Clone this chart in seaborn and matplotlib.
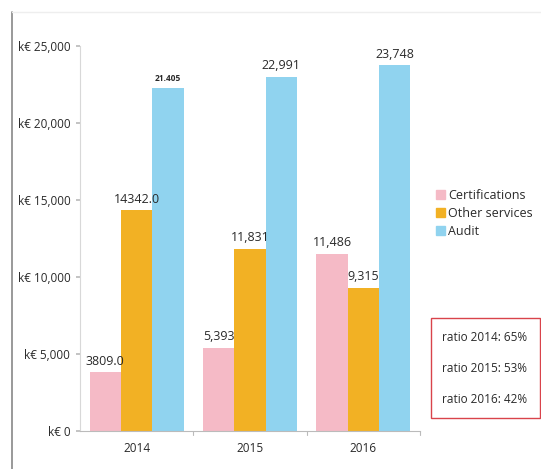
import matplotlib
matplotlib.use("Agg")
import matplotlib.pyplot as plt
import seaborn as sns
import pandas as pd
from matplotlib.patches import Rectangle
from matplotlib.lines import Line2D

years = ["2014", "2015", "2016"]
categories = ["Certifications", "Other services", "Audit"]
certifications = [3809.0, 5393, 11486]
other_services = [14342.0, 11831, 9315]
audit = [22300, 22991, 23748]
cert_labels = ["3809.0", "5,393", "11,486"]
other_labels = ["14342.0", "11,831", "9,315"]
audit_labels = ["21.405", "22,991", "23,748"]
ratio_texts = ["ratio 2014: 65%", "ratio 2015: 53%", "ratio 2016: 42%"]
yticks = [0, 5000, 10000, 15000, 20000, 25000]
ytick_labels = ["k€ 0", "k€ 5,000", "k€ 10,000", "k€ 15,000", "k€ 20,000", "k€ 25,000"]
colors = ["#F5BAC6", "#F2B124", "#90D3EF"]

rows = []
for i, y in enumerate(years):
    rows.append((y, categories[0], certifications[i]))
    rows.append((y, categories[1], other_services[i]))
    rows.append((y, categories[2], audit[i]))
df = pd.DataFrame(rows, columns=["year", "category", "value"])

sns.set_theme(style="white")
plt.rcParams["font.family"] = ["Open Sans", "DejaVu Sans"]

fig = plt.figure(figsize=(5.41, 4.69), dpi=100)
ax = fig.add_axes([80 / 541, 1 - 431 / 469, 340 / 541, 385 / 469])
sns.barplot(data=df, x="year", y="value", hue="category", hue_order=categories,
            palette=colors, width=0.83, gap=0, saturation=1, ax=ax, legend=False,
            linewidth=0, edgecolor="none")

ax.set_ylim(0, 25000)
ax.set_xlim(-0.5, 2.5)
ax.set_yticks(yticks)
ax.set_yticklabels(ytick_labels, fontsize=8.5, color="#2a2a2a")
ax.set_xlabel("")
ax.set_ylabel("")
ax.tick_params(axis="x", labelsize=8.5, colors="#2a2a2a", length=0, pad=8)
ax.tick_params(axis="y", left=True, length=3, color="#bbbbbb", pad=4)
for s in ["top", "right"]:
    ax.spines[s].set_visible(False)
ax.spines["left"].set_color("#d8d8d8")
ax.spines["bottom"].set_color("#bbbbbb")
ax.spines["left"].set_linewidth(0.8)
ax.spines["bottom"].set_linewidth(0.8)
for xb in [0.5, 1.5, 2.5]:
    ax.plot([xb, xb], [0, -250], color="#bbbbbb", lw=0.8, clip_on=False)

label_sets = [cert_labels, other_labels, audit_labels]
for ci, container in enumerate(ax.containers):
    for bi, bar in enumerate(container):
        txt = label_sets[ci][bi]
        is_small = (ci == 2 and bi == 0)
        ax.text(bar.get_x() + bar.get_width() / 2, bar.get_height() + 300, txt,
                ha="center", va="bottom",
                fontsize=6 if is_small else 9,
                fontweight="bold" if is_small else "normal",
                color="#2a2a2a", clip_on=False)

# legend
handles = [Rectangle((0, 0), 1, 1, color=c) for c in colors]
fig.legend(handles, categories, loc="upper left", bbox_to_anchor=(436 / 541, 1 - 189 / 469),
           frameon=False, fontsize=9, handlelength=0.7, handleheight=0.7,
           handletextpad=0.25, labelspacing=0.4, borderaxespad=0, borderpad=0,
           labelcolor="#2a2a2a")

# ratio box
fig.patches.append(Rectangle((431 / 541, 1 - 418 / 469), 109 / 541, 100 / 469,
                             transform=fig.transFigure, fill=False,
                             edgecolor="#d9434b", lw=1.0))
for k, t in enumerate(ratio_texts):
    fig.text(442 / 541, 1 - (337 + k * 31) / 469, t, fontsize=8.5, color="#2a2a2a",
             va="center", ha="left")

# outer frame lines
fig.lines.append(Line2D([12 / 541, 12 / 541], [0, 1 - 12 / 469], transform=fig.transFigure,
                        color="#888888", lw=1.2))
fig.lines.append(Line2D([12 / 541, 1], [1 - 12 / 469, 1 - 12 / 469], transform=fig.transFigure,
                        color="#eeeeee", lw=1.0))

fig.savefig("out.png", dpi=100)
